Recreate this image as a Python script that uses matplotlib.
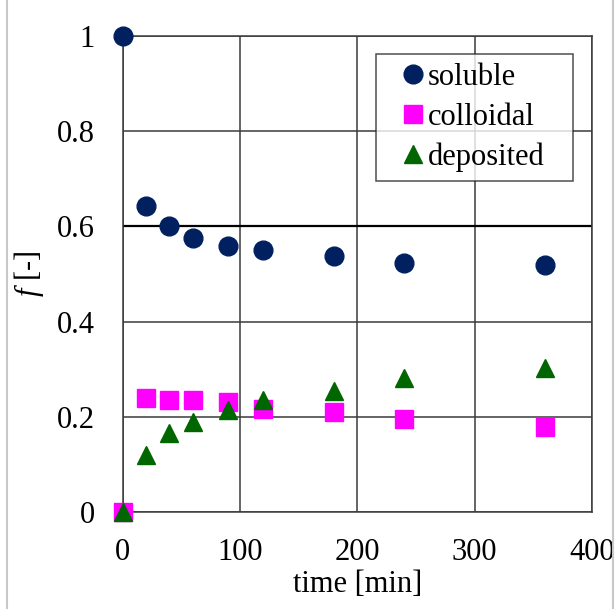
import matplotlib
matplotlib.use("Agg")
import matplotlib.pyplot as plt
from matplotlib.lines import Line2D

plt.rcParams['font.family'] = ['Liberation Serif', 'DejaVu Serif']
plt.rcParams['mathtext.fontset'] = 'custom'
plt.rcParams['mathtext.rm'] = 'Liberation Serif'
plt.rcParams['mathtext.it'] = 'Liberation Serif:italic'

# data
t = [0, 20, 40, 60, 90, 120, 180, 240, 360]
soluble = [1.0, 0.643, 0.600, 0.575, 0.558, 0.551, 0.537, 0.524, 0.518]
colloidal = [0.0, 0.239, 0.235, 0.236, 0.230, 0.216, 0.210, 0.195, 0.178]
deposited = [0.0, 0.119, 0.166, 0.190, 0.214, 0.235, 0.255, 0.282, 0.303]

xticks = [0, 100, 200, 300, 400]
yticks = [0, 0.2, 0.4, 0.6, 0.8, 1]
ytick_labels = ["0", "0.2", "0.4", "0.6", "0.8", "1"]

fig = plt.figure(figsize=(6.16, 6.09), dpi=100)
ax = fig.add_axes([0.1989, 0.1593, 0.7622, 0.7817])

grid_c = "#3a3a3a"
fs = 22
ax.plot(t, soluble, "o", color="#002060", markersize=13.5, label="soluble", zorder=3, clip_on=False)
ax.plot(t, colloidal, "s", color="#ff00ff", markersize=13, label="colloidal", zorder=3, clip_on=False)
ax.plot(t, deposited, "^", color="#006600", markersize=12.5, label="deposited", zorder=4, clip_on=False)

ax.set_xlim(0, 400)
ax.set_ylim(0, 1)
ax.set_xticks(xticks)
ax.set_yticks(yticks)
ax.set_yticklabels(ytick_labels)
ax.tick_params(axis="both", length=0, labelsize=fs)
ax.tick_params(axis="x", pad=19)
ax.tick_params(axis="y", pad=20)
ax.grid(True, color=grid_c, linewidth=1.1)
ax.set_axisbelow(True)
ax.get_ygridlines()[3].set_color("black")
ax.get_ygridlines()[3].set_linewidth(1.6)
for s in ax.spines.values():
    s.set_color(grid_c)
    s.set_linewidth(1.1)

ax.set_xlabel("time [min]", fontsize=fs, labelpad=2)
ax.set_ylabel("$f$ [-]", fontsize=fs, labelpad=8)

leg = ax.legend(loc="upper left", bbox_to_anchor=(0.54, 0.710, 0.42, 0.252),
                mode="expand", borderaxespad=0, fontsize=fs, frameon=True,
                fancybox=False, borderpad=0.3, handlelength=1.8,
                handletextpad=-0.4, labelspacing=0.35)
leg.get_frame().set_edgecolor("#222222")
leg.get_frame().set_linewidth(1.1)
leg.set_zorder(5)

# light gray frame lines at the picture's sides
fig.add_artist(Line2D([6.5 / 616, 6.5 / 616], [0, 1], color="#c8c8c8", lw=1.5))
fig.add_artist(Line2D([612.5 / 616, 612.5 / 616], [0, 1], color="#c8c8c8", lw=1.5))

fig.savefig("out.png", dpi=100)
